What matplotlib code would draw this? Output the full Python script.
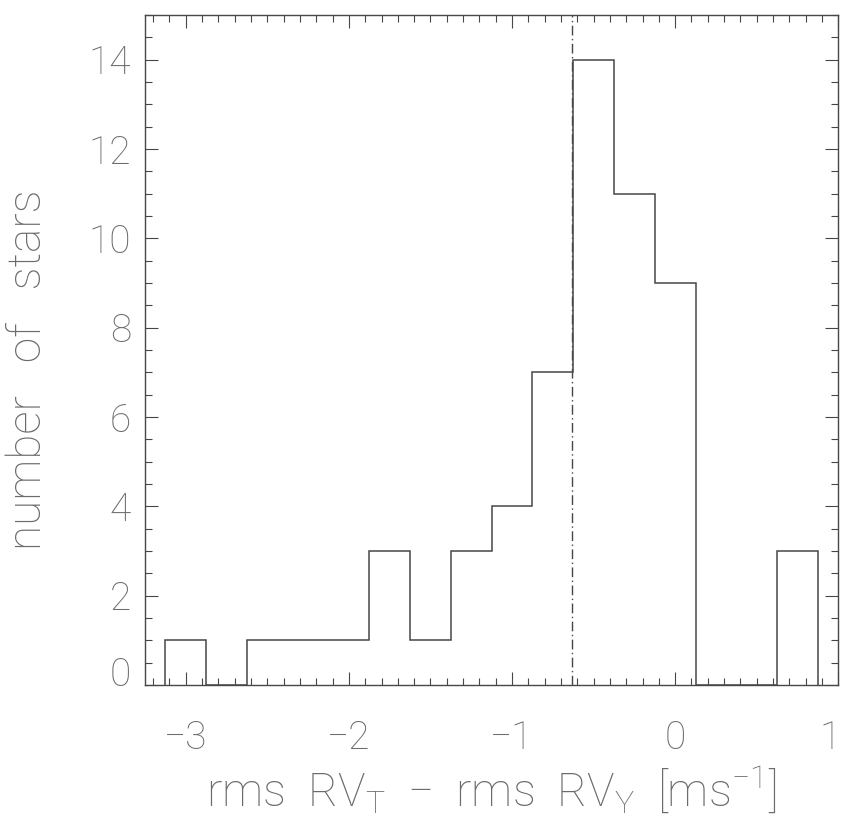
import numpy as np
import matplotlib
matplotlib.use('Agg')
import matplotlib.pyplot as plt
from matplotlib.ticker import MultipleLocator
from matplotlib.transforms import ScaledTranslation

plt.rcParams['font.family'] = ['Roboto', 'DejaVu Sans']
plt.rcParams['font.weight'] = 'light'
plt.rcParams['axes.labelweight'] = 'light'
plt.rcParams['mathtext.fontset'] = 'custom'
plt.rcParams['mathtext.rm'] = 'Roboto:light'
plt.rcParams['mathtext.it'] = 'Roboto:light'
plt.rcParams['mathtext.default'] = 'rm'

# histogram of rms differences, bin width 0.25 m/s
bin_centers = [-3.0, -2.75, -2.5, -2.25, -2.0, -1.75, -1.5, -1.25,
               -1.0, -0.75, -0.5, -0.25, 0.0, 0.25, 0.5, 0.75]
star_counts = [1, 0, 1, 1, 1, 3, 1, 3, 4, 7, 14, 11, 9, 0, 0, 3]
bin_width = 0.25
median_diff = -0.635

x_ticks = [-3, -2, -1, 0, 1]
x_ticklabels = ['\u22123', '\u22122', '\u22121', '0', '1']
y_ticks = [0, 2, 4, 6, 8, 10, 12, 14]

line_col = '0.28'
text_col = '0.42'

centers = np.array(bin_centers)
edges = np.append(centers - bin_width/2., centers[-1] + bin_width/2.)

fig = plt.figure(figsize=(8.41, 8.16), dpi=100)
ax = fig.add_axes([0.1724, 0.1605, 0.8244, 0.8211])

ax.stairs(star_counts, edges, baseline=0, color=line_col, lw=1.1)
ax.axvline(median_diff, color=line_col, lw=1.0, dashes=(7, 2.5, 1, 2.5))

ax.set_xlim(-3.25, 1.0)
ax.set_ylim(0, 15)
ax.set_xticks(x_ticks)
ax.set_xticklabels(x_ticklabels)
ax.set_yticks(y_ticks)
ax.xaxis.set_minor_locator(MultipleLocator(0.1))
ax.yaxis.set_minor_locator(MultipleLocator(0.5))

ax.tick_params(which='both', direction='in', top=True, right=True,
               color=line_col, width=0.8, labelcolor=text_col, labelsize=28)
ax.tick_params(which='major', length=9.5)
ax.tick_params(which='minor', length=5.2)
ax.tick_params(axis='x', which='major', pad=25)
ax.tick_params(axis='y', which='major', pad=10)
for s in ax.spines.values():
    s.set_color(line_col)
    s.set_linewidth(1.0)

# lift the zero label off the corner, pull the last x label inside
lab0 = ax.yaxis.get_major_ticks()[0].label1
lab0.set_transform(lab0.get_transform() + ScaledTranslation(0, 10/72., fig.dpi_scale_trans))
lab1 = ax.xaxis.get_major_ticks()[-1].label1
lab1.set_transform(lab1.get_transform() + ScaledTranslation(-6/72., 0, fig.dpi_scale_trans))

ax.set_xlabel(r'rms  RV$_\mathrm{T}$  −  rms  RV$_\mathrm{Y}$  [ms$^{-1}$]',
              fontsize=33, color=text_col)
ax.xaxis.set_label_coords(0.5, -0.118)
ax.set_ylabel('number   of   stars', fontsize=33, color=text_col)
ax.yaxis.set_label_coords(-0.137, 0.47)

fig.savefig('out.png', dpi=100)
